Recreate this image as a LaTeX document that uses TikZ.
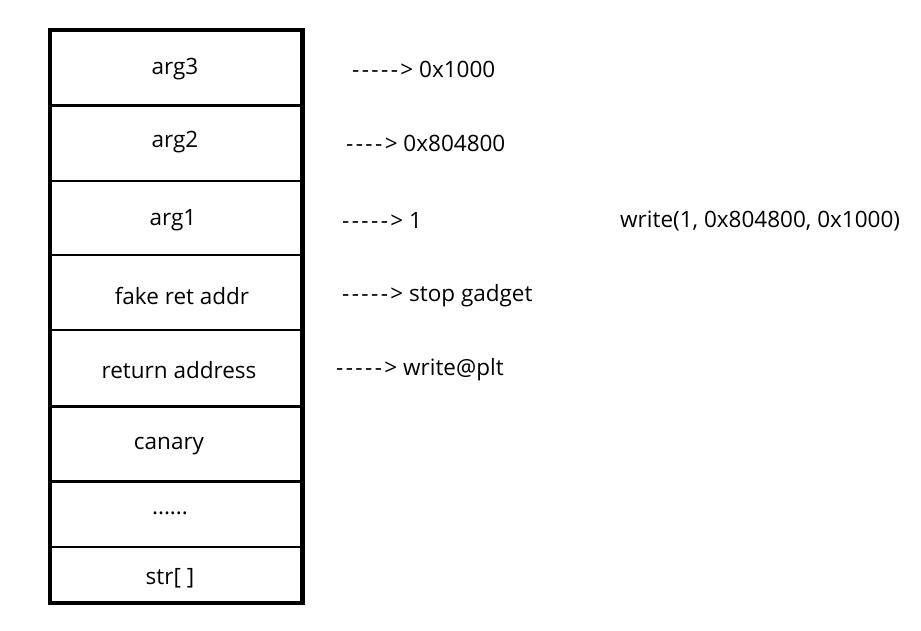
\documentclass[tikz,border=0pt]{standalone}
\usepackage{fontspec}
\setmainfont{Open Sans}
\newcommand\hy{-\kern2.4pt}
\begin{document}
\begin{tikzpicture}[x=1pt,y=-1pt,
  lbl/.style={inner sep=0pt, font=\fontsize{22.5}{27}\selectfont, yshift=-2pt},
  rlbl/.style={lbl, anchor=west},
  sep/.style={line width=2.5pt},
  frame/.style={line width=4.5pt}]
\useasboundingbox (0,0) rectangle (921,631);
\fill[white] (0,0) rectangle (921,631);
% row separators
\draw[sep] (50,105.5) -- (302,105.5);
\draw[sep] (50,181) -- (302,181);
\draw[sep] (50,255) -- (302,255);
\draw[sep] (50,330) -- (302,330);
\draw[line width=3pt] (50,406) -- (302,406);
\draw[sep] (50,481.5) -- (302,481.5);
\draw[line width=2pt] (50,546.5) -- (302,546.5);
\draw[frame] (50,30) rectangle (302.5,603);
% cell labels
\node[lbl] (c1) at (175,67) {arg3};
\node[lbl] (c2) at (175,140) {arg2};
\node[lbl] (c3) at (173,218) {arg1};
\node[lbl] (c4) at (182,294) {fake ret addr};
\node[lbl] (c5) at (179,368) {return address};
\node[lbl] (c6) at (169,444) {canary};
\node[lbl] (c7) at (170,511) {......};
\node[lbl] (c8) at (170,576) {str[ ]};
% right labels
\node[rlbl] (r1) at (352,67) {\hy\hy\hy\hy\hy> 0x1000};
\node[rlbl] (r2) at (346,141) {\hy\hy\hy\hy> 0x804800};
\node[rlbl] (r3) at (342,218) {\hy\hy\hy\hy\hy> 1};
\node[rlbl] (r4) at (342,294) {\hy\hy\hy\hy\hy> stop gadget};
\node[rlbl] (r5) at (336,368) {\hy\hy\hy\hy\hy> write@plt};
\node[rlbl] (w) at (620,219) {write(1, 0x804800, 0x1000)};
\end{tikzpicture}
\end{document}
